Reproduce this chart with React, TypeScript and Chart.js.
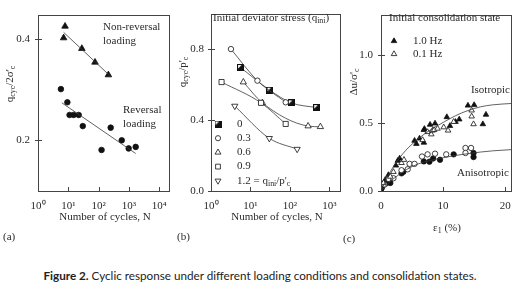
import React, { useEffect, useRef } from "react";
import { Chart, registerables } from "chart.js";
Chart.register(...registerables);

// ---------- Panel (a) ----------
const aNonRevN = [7.0, 7.8, 28, 76, 210];
const aNonRevQ = [0.402, 0.425, 0.381, 0.354, 0.329];
const aRevN = [5.7, 9.3, 11, 15, 22, 30, 125, 250, 580, 980, 1670];
const aRevQ = [0.301, 0.275, 0.25, 0.25, 0.25, 0.228, 0.181, 0.225, 0.2, 0.184, 0.187];
const aNonRevFitN = [7, 240];
const aNonRevFitQ = [0.413, 0.327];
const aRevFitN = [6.1, 1670];
const aRevFitQ = [0.274, 0.174];
const aXTicks = [1, 10, 100, 1000, 10000];
const aYTicks = [0.2, 0.4];

// ---------- Panel (b) ----------
const bN0 = [5.6, 31, 108, 475];
const bQ0 = [0.696, 0.568, 0.497, 0.47];
const bN03 = [3.2, 15, 78];
const bQ03 = [0.8, 0.622, 0.5];
const bN06 = [6.6, 20, 288, 590];
const bQ06 = [0.614, 0.497, 0.366, 0.362];
const bN09 = [1.85, 18.5, 78];
const bQ09 = [0.614, 0.497, 0.378];
const bN12 = [4, 30, 152];
const bQ12 = [0.479, 0.297, 0.236];
const bXTicks = [1, 10, 100, 1000];
const bYTicks = [0, 0.4, 0.8];
const bLegendLabels = ["0", "0.3", "0.6", "0.9", "1.2"];

// ---------- Panel (c) ----------
const cIso10X = [0, 0.68, 1.2, 2.4, 2.7, 3.0, 5.4, 5.7, 6.2, 6.9, 6.9, 7.0, 7.9, 8.7, 10.6, 11.1, 12.0, 12.6, 14.0, 15.0, 16.4, 16.9];
const cIso10Y = [0.01, 0.082, 0.118, 0.188, 0.223, 0.24, 0.371, 0.348, 0.387, 0.357, 0.45, 0.458, 0.489, 0.498, 0.545, 0.48, 0.51, 0.528, 0.63, 0.634, 0.493, 0.563];
const cIso01X = [0.4, 1.5, 2.0, 3.3, 3.7, 6.7, 7.5, 8.1, 8.3, 8.55, 9.1, 10.1, 10.8, 11.7, 14.6, 14.6, 14.9];
const cIso01Y = [0.059, 0.106, 0.141, 0.207, 0.23, 0.376, 0.435, 0.418, 0.446, 0.45, 0.46, 0.47, 0.446, 0.51, 0.594, 0.55, 0.493];
const cAni10X = [0.15, 0.9, 1.5, 3.3, 3.6, 6.9, 7.8, 8.4, 9.5, 11.7, 14.9, 14.9];
const cAni10Y = [0.024, 0.059, 0.059, 0.13, 0.141, 0.218, 0.216, 0.24, 0.23, 0.27, 0.25, 0.28];
const cAni01X = [0.57, 1.2, 2.0, 3.3, 4.3, 4.6, 5.4, 6.6, 7.5, 8.7, 10.5, 13.6, 13.6, 14.5];
const cAni01Y = [0.047, 0.089, 0.094, 0.153, 0.16, 0.2, 0.2, 0.254, 0.27, 0.275, 0.27, 0.317, 0.28, 0.317];
const cIsoCurveX = [0, 1, 2, 3, 4, 5, 6, 8, 10, 12, 14, 16, 18, 21];
const cIsoCurveY = [0, 0.1, 0.18, 0.245, 0.3, 0.345, 0.385, 0.452, 0.505, 0.555, 0.593, 0.62, 0.635, 0.645];
const cAniCurveX = [0, 1, 2, 4, 6, 8, 10, 12, 14, 16, 18, 21];
const cAniCurveY = [0, 0.05, 0.09, 0.155, 0.2, 0.225, 0.245, 0.262, 0.275, 0.287, 0.296, 0.305];
const cXTicks = [0, 10, 20];
const cYTicks = [0, 0.5, 1.0];

// ---------- styling ----------
const SERIF = '"Liberation Serif", "Times New Roman", serif';
const INK = "#2a2a2a";
const MARK = "#111";
const LINE = "#3a3a3a";
const FS = 11;
const CANVAS_H = 250;

type Part = [string, string?];
type TextItem = { parts: Part[]; x: number; y: number; align?: "left" | "center" | "right"; rotate?: boolean };
type LegendMark = { style: string; x: number; y: number; r: number; fill: boolean };

const pts = (xs: number[], ys: number[]) => xs.map((x, i) => ({ x, y: ys[i] }));
const SUP: Record<number, string> = { 0: "⁰", 1: "¹", 2: "²", 3: "³", 4: "⁴" };

function drawRich(ctx: CanvasRenderingContext2D, t: TextItem) {
  ctx.save();
  ctx.translate(t.x, t.y);
  if (t.rotate) ctx.rotate(-Math.PI / 2);
  ctx.textBaseline = "middle";
  ctx.textAlign = "left";
  ctx.fillStyle = INK;
  const items = t.parts.map(([s, m]) => {
    const size = m === "sub" || m === "sup" ? FS * 0.72 : FS;
    ctx.font = `${size}px ${SERIF}`;
    return { s, m, size, w: ctx.measureText(s).width };
  });
  const total = items.reduce((a, b) => a + b.w, 0);
  const align = t.align || "left";
  let cx = align === "left" ? 0 : align === "center" ? -total / 2 : -total;
  for (const it of items) {
    ctx.font = `${it.size}px ${SERIF}`;
    const dy = it.m === "sub" ? FS * 0.3 : it.m === "sup" ? -FS * 0.35 : 0;
    ctx.fillText(it.s, cx, dy);
    cx += it.w;
  }
  ctx.restore();
}

let halfSquareImg: HTMLCanvasElement | null = null;
function halfSquare(): HTMLCanvasElement {
  if (halfSquareImg) return halfSquareImg;
  const c = document.createElement("canvas");
  c.width = 7;
  c.height = 7;
  const g = c.getContext("2d")!;
  g.fillStyle = MARK;
  g.fillRect(0, 0, 7, 7);
  g.fillStyle = "#fff";
  g.beginPath();
  g.moveTo(1, 1);
  g.lineTo(4.5, 1);
  g.lineTo(1, 4.5);
  g.closePath();
  g.fill();
  halfSquareImg = c;
  return c;
}

function drawMarker(ctx: CanvasRenderingContext2D, m: LegendMark) {
  ctx.save();
  ctx.strokeStyle = MARK;
  ctx.fillStyle = m.fill ? MARK : "#fff";
  ctx.lineWidth = 0.8;
  const { x, y, r } = m;
  ctx.beginPath();
  if (m.style === "circle") {
    ctx.arc(x, y, r, 0, Math.PI * 2);
  } else if (m.style === "rect") {
    const s = r * Math.SQRT1_2;
    ctx.rect(x - s, y - s, 2 * s, 2 * s);
  } else if (m.style === "triangle" || m.style === "tridown") {
    const sgn = m.style === "triangle" ? 1 : -1;
    ctx.moveTo(x, y - sgn * r);
    ctx.lineTo(x + r * 0.866, y + sgn * r * 0.5);
    ctx.lineTo(x - r * 0.866, y + sgn * r * 0.5);
    ctx.closePath();
  } else if (m.style === "half") {
    const img = halfSquare();
    ctx.drawImage(img, x - 3.5, y - 3.5);
    ctx.restore();
    return;
  }
  ctx.fill();
  ctx.stroke();
  ctx.restore();
}

function makeDecor(offsetX: number, texts: TextItem[], marks: LegendMark[]) {
  return {
    id: "decor",
    afterDraw(chart: any) {
      const ctx: CanvasRenderingContext2D = chart.ctx;
      const a = chart.chartArea;
      ctx.save();
      ctx.strokeStyle = "#444";
      ctx.lineWidth = 1;
      ctx.strokeRect(Math.round(a.left) + 0.5, Math.round(a.top) + 0.5, Math.round(a.right - a.left), Math.round(a.bottom - a.top));
      const xs = chart.scales.x;
      const ys = chart.scales.y;
      ctx.beginPath();
      xs.ticks.forEach((t: any) => {
        const p = Math.round(xs.getPixelForValue(t.value)) + 0.5;
        ctx.moveTo(p, a.bottom - 4);
        ctx.lineTo(p, a.bottom + 1);
      });
      ys.ticks.forEach((t: any) => {
        const p = Math.round(ys.getPixelForValue(t.value)) + 0.5;
        ctx.moveTo(a.left - 3, p);
        ctx.lineTo(a.left + 4, p);
      });
      ctx.stroke();
      ctx.restore();
      ctx.save();
      ctx.translate(-offsetX, 0);
      texts.forEach((t) => drawRich(ctx, t));
      marks.forEach((m) => drawMarker(ctx, m));
      ctx.restore();
    },
  };
}

function axisCommon(tickVals: number[], fmt: (v: number) => string, pad: number) {
  return {
    afterBuildTicks: (s: any) => {
      s.ticks = tickVals.map((v) => ({ value: v }));
    },
    ticks: {
      callback: (v: any) => fmt(Number(v)),
      font: { family: SERIF, size: FS },
      color: INK,
      padding: pad,
      maxRotation: 0,
      autoSkip: false,
    },
    grid: { display: false, drawTicks: false },
    border: { display: false },
  };
}

function buildConfig(p: {
  left: number;
  width: number;
  area: { left: number; right: number; top: number; bottom: number };
  datasets: any[];
  x: any;
  y: any;
  texts: TextItem[];
  marks: LegendMark[];
}) {
  return {
    type: "scatter",
    data: { datasets: p.datasets },
    options: {
      animation: false,
      responsive: false,
      maintainAspectRatio: false,
      events: [],
      layout: { padding: { left: 0, top: p.area.top, right: p.left + p.width - p.area.right, bottom: 0 } },
      plugins: { legend: { display: false }, tooltip: { enabled: false } },
      scales: {
        x: { ...p.x, afterFit: (s: any) => { s.height = CANVAS_H - p.area.bottom; } },
        y: { ...p.y, afterFit: (s: any) => { s.width = p.area.left - p.left; } },
      },
    },
    plugins: [makeDecor(p.left, p.texts, p.marks)],
  };
}

const markDs = (data: any[], style: string, r: number, fill: boolean, extra: any = {}) => ({
  data,
  pointStyle: style,
  pointRadius: r,
  pointBackgroundColor: fill ? MARK : "#fff",
  pointBorderColor: MARK,
  pointBorderWidth: 0.8,
  showLine: false,
  ...extra,
});
const lineDs = (data: any[], tension = 0) => ({
  data,
  showLine: true,
  pointRadius: 0,
  borderColor: LINE,
  borderWidth: 0.8,
  tension,
  cubicInterpolationMode: tension ? "monotone" : "default",
});
const curveDs = (data: any[], style: string, r: number, fill: boolean, extra: any = {}) => ({
  ...markDs(data, style, r, fill, extra),
  showLine: true,
  borderColor: LINE,
  borderWidth: 0.8,
  cubicInterpolationMode: "monotone",
});

const logFmt = (v: number) => {
  const e = Math.round(Math.log10(v));
  return "10" + SUP[e];
};

function configA() {
  return buildConfig({
    left: 0,
    width: 176,
    area: { left: 38, right: 172, top: 7, bottom: 191 },
    datasets: [
      lineDs(pts(aNonRevFitN, aNonRevFitQ)),
      lineDs(pts(aRevFitN, aRevFitQ)),
      markDs(pts(aNonRevN, aNonRevQ), "triangle", 3.8, true),
      markDs(pts(aRevN, aRevQ), "circle", 2.8, true),
    ],
    x: { type: "logarithmic", min: 1, max: 20400, ...axisCommon(aXTicks, logFmt, 9) },
    y: { type: "linear", min: 0.1, max: 0.448, ...axisCommon(aYTicks, (v) => v.toFixed(1), 8) },
    texts: [
      { parts: [["q"], ["cyc", "sub"], ["/2σ'"], ["c", "sub"]], x: 10, y: 84, align: "center", rotate: true },
      { parts: [["Non-reversal"]], x: 103, y: 27 },
      { parts: [["loading"]], x: 103, y: 41 },
      { parts: [["Reversal"]], x: 123, y: 110 },
      { parts: [["loading"]], x: 123, y: 124 },
      { parts: [["Number of cycles, N"]], x: 105, y: 217, align: "center" },
      { parts: [["(a)"]], x: 3, y: 237 },
    ],
    marks: [],
  });
}

function configB() {
  const legendY = [124, 138.2, 152.4, 166.6, 180.8];
  const styles = ["half", "circle", "triangle", "rect", "tridown"];
  return buildConfig({
    left: 176,
    width: 170,
    area: { left: 211, right: 342, top: 7, bottom: 191 },
    datasets: [
      curveDs(pts(bN09, bQ09), "rect", 3.6, false),
      curveDs(pts(bN06, bQ06), "triangle", 3.6, false),
      curveDs(pts(bN12, bQ12), "triangle", 3.6, false, { rotation: 180 }),
      curveDs(pts(bN03, bQ03), "circle", 2.7, false),
      { ...curveDs(pts(bN0, bQ0), "rect", 3.5, true), pointStyle: halfSquare() },
    ],
    x: { type: "logarithmic", min: 1, max: 1900, ...axisCommon(bXTicks, logFmt, 9) },
    y: { type: "linear", min: 0, max: 1.0, ...axisCommon(bYTicks, (v) => v.toFixed(1), 7) },
    texts: [
      { parts: [["q"], ["cyc", "sub"], ["/p'"], ["c", "sub"]], x: 183, y: 72, align: "center", rotate: true },
      { parts: [["Initial deviator stress (q"], ["ini", "sub"], [")"]], x: 213, y: 18 },
      ...bLegendLabels.slice(0, 4).map((l, i) => ({ parts: [[l]] as Part[], x: 237, y: legendY[i] })),
      { parts: [["1.2 = q"], ["ini", "sub"], ["/p'"], ["c", "sub"]], x: 237, y: legendY[4] },
      { parts: [["Number of cycles, N"]], x: 277, y: 217, align: "center" },
      { parts: [["(b)"]], x: 177, y: 237 },
    ],
    marks: styles.map((s, i) => ({ style: s, x: 218, y: legendY[i], r: s === "circle" ? 2.6 : 3.4, fill: s === "half" })),
  });
}

function configC() {
  return buildConfig({
    left: 340,
    width: 180,
    area: { left: 381, right: 514, top: 7, bottom: 191 },
    datasets: [
      lineDs(pts(cIsoCurveX, cIsoCurveY), 0.4),
      lineDs(pts(cAniCurveX, cAniCurveY), 0.4),
      markDs(pts(cIso01X, cIso01Y), "triangle", 3.2, false),
      markDs(pts(cAni01X, cAni01Y), "circle", 2.7, false),
      markDs(pts(cIso10X, cIso10Y), "triangle", 3.2, true),
      markDs(pts(cAni10X, cAni10Y), "circle", 2.7, true),
    ],
    x: { type: "linear", min: 0, max: 21, ...axisCommon(cXTicks, (v) => String(v), 9) },
    y: { type: "linear", min: 0, max: 1.3, ...axisCommon(cYTicks, (v) => v.toFixed(1), 8) },
    texts: [
      { parts: [["Δu/σ'"], ["c", "sub"]], x: 354, y: 82, align: "center", rotate: true },
      { parts: [["Initial consolidation state"]], x: 389, y: 18 },
      { parts: [["1.0 Hz"]], x: 413, y: 41 },
      { parts: [["0.1 Hz"]], x: 413, y: 54 },
      { parts: [["Isotropic"]], x: 510, y: 90, align: "right" },
      { parts: [["Anisotropic"]], x: 509, y: 173, align: "right" },
      { parts: [["ε"], ["1", "sub"], [" (%)"]], x: 447, y: 228, align: "center" },
      { parts: [["(c)"]], x: 343, y: 239 },
    ],
    marks: [
      { style: "triangle", x: 394, y: 41, r: 3.2, fill: true },
      { style: "triangle", x: 394, y: 54, r: 3.2, fill: false },
    ],
  });
}

function Panel({ left, width, make }: { left: number; width: number; make: () => any }) {
  const ref = useRef<HTMLCanvasElement>(null);
  useEffect(() => {
    const chart = new Chart(ref.current as HTMLCanvasElement, make());
    return () => chart.destroy();
  }, []);
  return (
    <canvas
      ref={ref}
      width={width}
      height={CANVAS_H}
      style={{ position: "absolute", left, top: 0, width, height: CANVAS_H }}
    />
  );
}

export default function App() {
  return (
    <div style={{ position: "absolute", left: 0, top: 0, width: 520, height: 294, background: "#fff", overflow: "hidden" }}>
      <Panel left={0} width={176} make={configA} />
      <Panel left={176} width={170} make={configB} />
      <Panel left={340} width={180} make={configC} />
      <div
        style={{
          position: "absolute",
          left: 0,
          top: 266,
          width: 520,
          height: 18,
          lineHeight: "18px",
          textAlign: "center",
          fontFamily: "Lato, 'Open Sans', sans-serif",
          fontSize: 11.7,
          color: "#222",
          whiteSpace: "nowrap",
        }}
      >
        <b>Figure 2.</b> Cyclic response under different loading conditions and consolidation states.
      </div>
    </div>
  );
}
